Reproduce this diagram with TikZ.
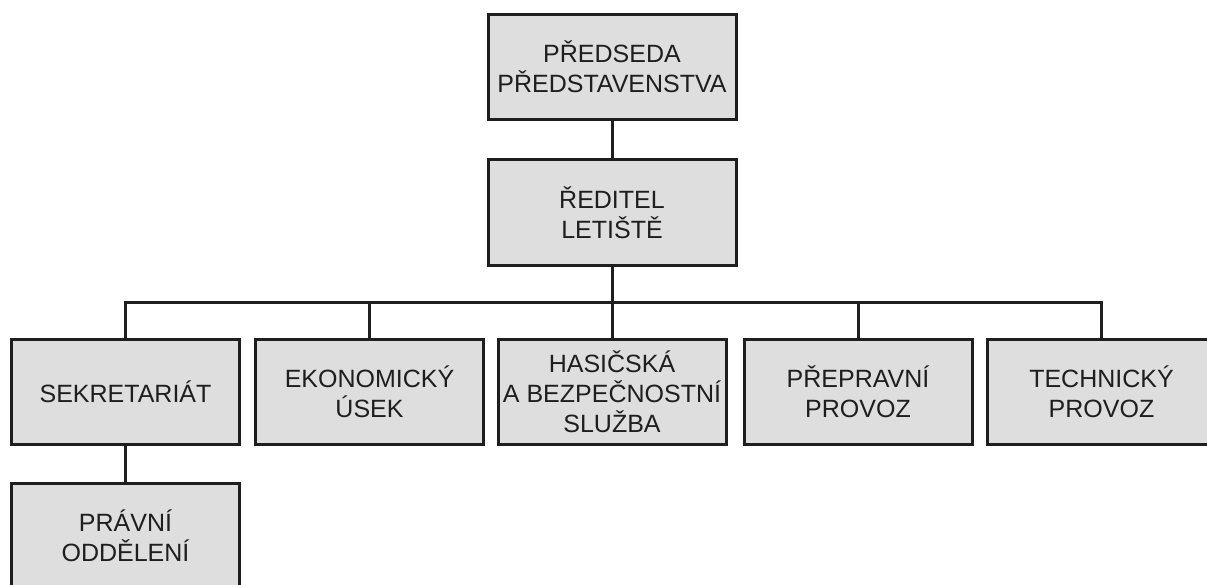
\documentclass[tikz,border=0pt]{standalone}
\usepackage{fontspec}
\setmainfont{Liberation Sans}
\definecolor{boxfill}{HTML}{DEDEDE}
\definecolor{ink}{HTML}{1E1E1E}
\begin{document}
\begin{tikzpicture}[x=1pt,y=-1pt,
  unit/.style={draw=ink, fill=boxfill, line width=3pt, rectangle,
    minimum width=228pt, minimum height=105pt, inner sep=0pt,
    align=center, text=ink, font=\fontsize{25}{30}\selectfont},
  headunit/.style={unit, minimum width=248pt},
  link/.style={draw=ink, line width=3pt}]
\useasboundingbox (0,0) rectangle (1207,585);
\clip (0,0) rectangle (1207,585);
\fill[white] (0,0) rectangle (1207,585);

% management
\node[headunit, minimum height=105pt] (chair) at (612,67) {PŘEDSEDA\\PŘEDSTAVENSTVA};
\node[headunit, minimum height=106pt] (dir) at (612,212.5) {ŘEDITEL\\LETIŠTĚ};

% departments
\node[unit] (sek)  at (125.5,392) {SEKRETARIÁT};
\node[unit] (eko)  at (369.5,392) {EKONOMICKÝ\\ÚSEK};
\node[unit] (has)  at (612,392)   {HASIČSKÁ\\A BEZPEČNOSTNÍ\\SLUŽBA};
\node[unit] (pre)  at (858,392)   {PŘEPRAVNÍ\\PROVOZ};
\node[unit] (tech) at (1101.5,392) {TECHNICKÝ\\PROVOZ};
\node[unit] (law)  at (125.5,536) {PRÁVNÍ\\ODDĚLENÍ};

% connectors
\coordinate (bus) at (612,302);
\draw[link] (chair.south) -- (dir.north);
\draw[link] (dir.south) -- (has.north);
\draw[link] (sek.north) |- (bus) -| (tech.north);
\draw[link] (eko.north) -- (eko.north |- bus);
\draw[link] (pre.north) -- (pre.north |- bus);
\draw[link] (sek.south) -- (law.north);
\end{tikzpicture}
\end{document}
